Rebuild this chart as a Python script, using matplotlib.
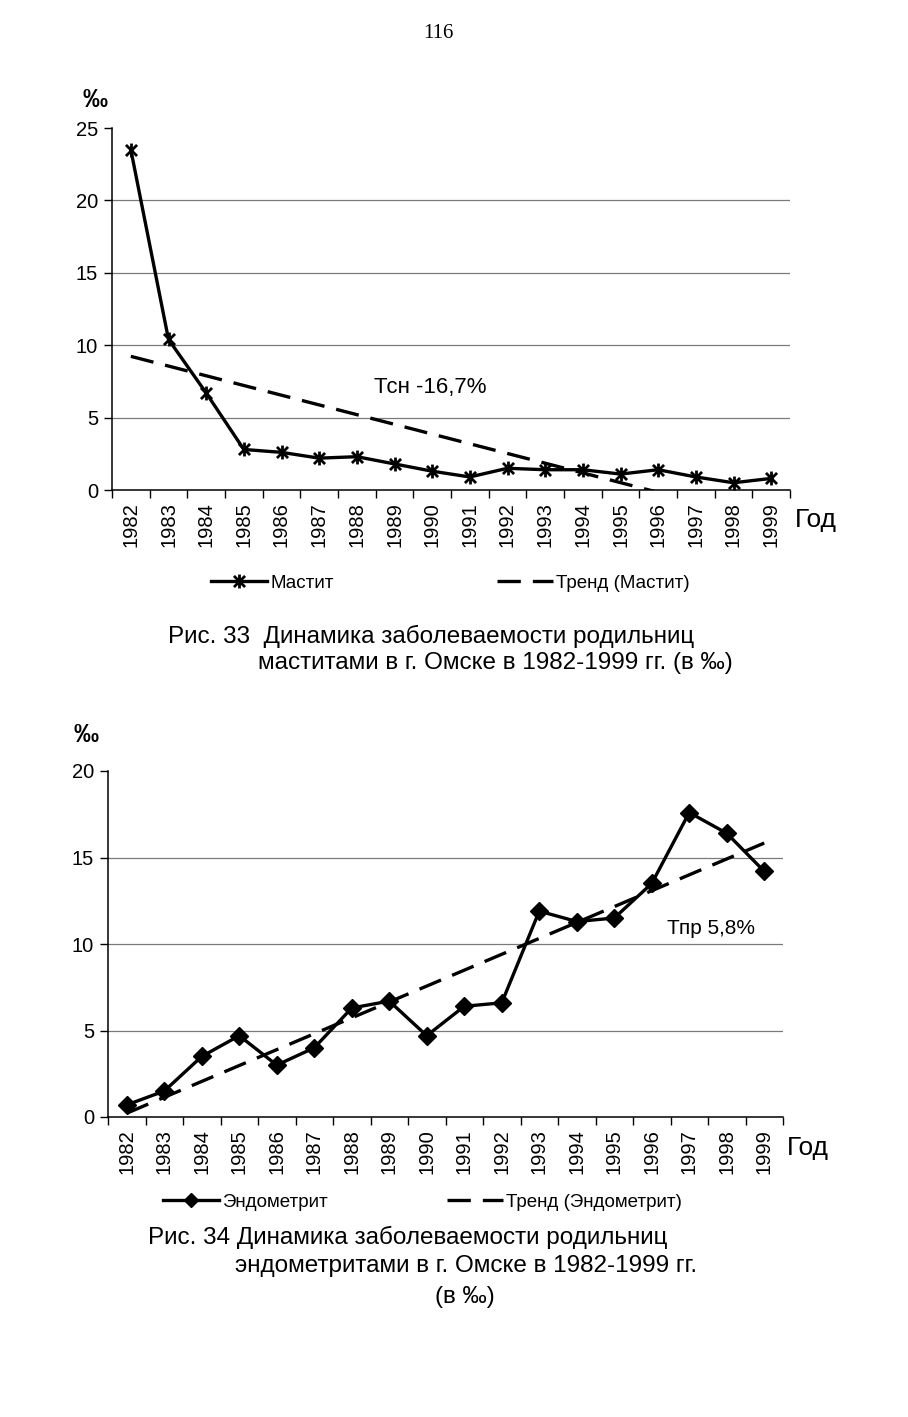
import numpy as np
import matplotlib.pyplot as plt
from matplotlib.path import Path
from matplotlib.lines import Line2D

plt.rcParams['font.family'] = ['Liberation Sans', 'DejaVu Sans']

# data
years = [str(y) for y in range(1982, 2000)]
mastitis = [23.5, 10.4, 6.7, 2.8, 2.6, 2.2, 2.3, 1.8, 1.3, 0.9,
            1.5, 1.4, 1.4, 1.1, 1.4, 0.9, 0.5, 0.8]
endometritis = [0.7, 1.5, 3.5, 4.7, 3.0, 4.0, 6.3, 6.7, 4.7, 6.4,
                6.6, 11.9, 11.3, 11.5, 13.5, 17.6, 16.4, 14.2]

W, H = 908, 1417


def fx(x):
    return x / W


def fy(y):
    return 1 - y / H


# excel-like star marker (x with a vertical bar)
star = Path([(-1, -1), (1, 1), (-1, 1), (1, -1), (0, -1.25), (0, 1.25)],
            [Path.MOVETO, Path.LINETO, Path.MOVETO, Path.LINETO, Path.MOVETO, Path.LINETO])

dash = (0, (7, 3.6))


def setup(ax, ymax):
    ax.set_xlim(-0.5, len(years) - 0.5)
    ax.set_ylim(0, ymax)
    yt = list(range(0, ymax + 1, 5))
    ax.set_yticks(yt)
    for v in yt[1:-1]:
        ax.axhline(v, color='#7a7a7a', lw=0.9, zorder=0)
    ax.set_xticks(np.arange(len(years)))
    ax.set_xticklabels(years, rotation=90, fontsize=14.5)
    ax.set_xticks(np.arange(len(years) + 1) - 0.5, minor=True)
    ax.tick_params(axis='x', which='major', length=0, pad=9)
    ax.tick_params(axis='x', which='minor', length=6, width=1, direction='out')
    ax.tick_params(axis='y', length=6, width=1, labelsize=14.5, pad=4)
    for s in ['top', 'right']:
        ax.spines[s].set_visible(False)
    for s in ['left', 'bottom']:
        ax.spines[s].set_linewidth(1.1)


fig = plt.figure(figsize=(W / 100, H / 100), dpi=100)
fig.text(fx(438), fy(33), '116', family='Liberation Serif', fontsize=15,
         ha='center', va='center')

leg_kw = dict(loc='center left', frameon=False, fontsize=13.5, handlelength=3.0,
              handletextpad=0.15, borderpad=0, borderaxespad=0)

# ---- Рис. 33 ----
ax1 = fig.add_axes([fx(112), fy(490), (790 - 112) / W, (490 - 128) / H])
setup(ax1, 25)
xi = np.arange(len(years))
ax1.plot(xi, mastitis, color='black', lw=2.4, marker=star, markersize=10,
         markeredgewidth=2, markerfacecolor='none', zorder=3)
c1 = np.polyfit(xi, mastitis, 1)
ax1.plot(xi, np.polyval(c1, xi), color='black', lw=2.4, ls=dash, zorder=2)
ax1.text(7.95, 7.1, 'Тсн -16,7%', fontsize=16, ha='center', va='center')
fig.text(fx(95), fy(100), '‰', fontsize=18, fontweight='bold', ha='center', va='center')
fig.text(fx(795), fy(520), 'Год', fontsize=19, ha='left', va='center')

h1 = Line2D([], [], color='black', lw=2.4, marker=star, markersize=10,
            markeredgewidth=2, markerfacecolor='none')
h2 = Line2D([], [], color='black', lw=2.4, ls=dash)
fig.legend([h1], ['Мастит'], bbox_to_anchor=(fx(211), fy(583)), **leg_kw)
fig.legend([h2], ['Тренд (Мастит)'], bbox_to_anchor=(fx(497), fy(583)), **leg_kw)
fig.text(fx(168), fy(636), 'Рис. 33  Динамика заболеваемости родильниц',
         fontsize=17.5, ha='left', va='center')
fig.text(fx(258), fy(663), 'маститами в г. Омске в 1982-1999 гг. (в ‰)',
         fontsize=17.5, ha='left', va='center')

# ---- Рис. 34 ----
ax2 = fig.add_axes([fx(108), fy(1117), (783 - 108) / W, (1117 - 771) / H])
setup(ax2, 20)
ax2.plot(xi, endometritis, color='black', lw=2.4, marker='D', markersize=9, zorder=3)
c2 = np.polyfit(xi, endometritis, 1)
ax2.plot(xi, np.polyval(c2, xi), color='black', lw=2.4, ls=dash, zorder=2)
ax2.text(15.58, 10.87, 'Тпр 5,8%', fontsize=15, ha='center', va='center')
fig.text(fx(86), fy(735), '‰', fontsize=18, fontweight='bold', ha='center', va='center')
fig.text(fx(787), fy(1148), 'Год', fontsize=19, ha='left', va='center')

h3 = Line2D([], [], color='black', lw=2.4, marker='D', markersize=7)
fig.legend([h3], ['Эндометрит'], bbox_to_anchor=(fx(163), fy(1202)), **leg_kw)
fig.legend([h2], ['Тренд (Эндометрит)'], bbox_to_anchor=(fx(447), fy(1202)), **leg_kw)
fig.text(fx(148), fy(1237), 'Рис. 34 Динамика заболеваемости родильниц',
         fontsize=17.5, ha='left', va='center')
fig.text(fx(235), fy(1266), 'эндометритами в г. Омске в 1982-1999 гг.',
         fontsize=17.5, ha='left', va='center')
fig.text(fx(435), fy(1297), '(в ‰)', fontsize=17.5, ha='left', va='center')

fig.savefig('out.png', dpi=100)
